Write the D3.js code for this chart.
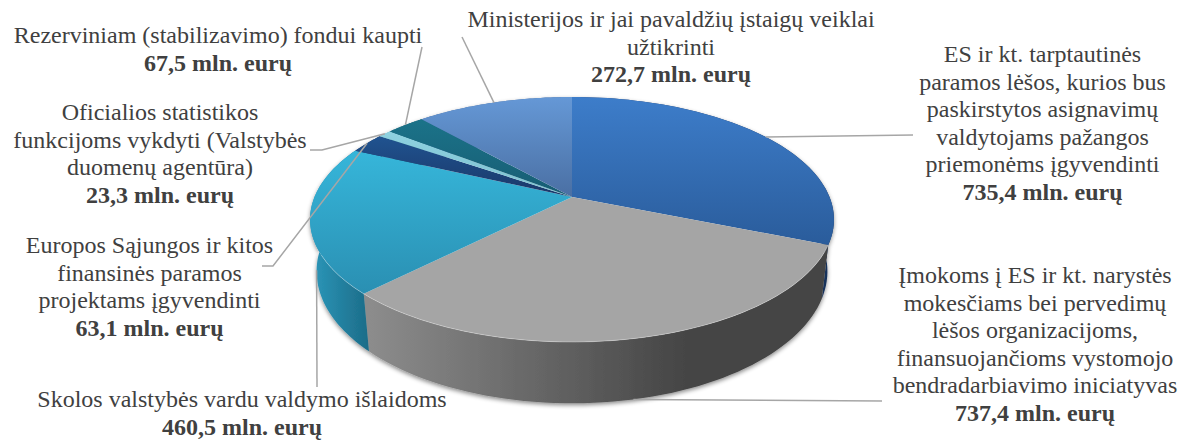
<!DOCTYPE html>
<html><head><meta charset="utf-8">
<script src="https://cdn.jsdelivr.net/npm/d3@7"></script>
<style>html,body{margin:0;padding:0;background:#fff}svg{display:block}text{font-family:"Liberation Serif",serif;font-size:24px;fill:#404040}</style>
</head><body><svg id="c" width="1184" height="441"></svg>
<script>
const categories = [
  ["ES ir kt. tarptautinės","paramos lėšos, kurios bus","paskirstytos asignavimų","valdytojams pažangos","priemonėms įgyvendinti"],
  ["Įmokoms į ES ir kt. narystės","mokesčiams bei pervedimų","lėšos organizacijoms,","finansuojančioms vystomojo","bendradarbiavimo iniciatyvas"],
  ["Skolos valstybės vardu valdymo išlaidoms"],
  ["Europos Sąjungos ir kitos","finansinės paramos","projektams įgyvendinti"],
  ["Oficialios statistikos","funkcijoms vykdyti (Valstybės","duomenų agentūra)"],
  ["Rezerviniam (stabilizavimo) fondui kaupti"],
  ["Ministerijos ir jai pavaldžių įstaigų veiklai","užtikrinti"]
];
const values = [735.4,737.4,460.5,63.1,23.3,67.5,272.7];
const unit = " mln. eurų";
const topColors = [["#3d7dca","#2a5c9b"],["#a5a5a5","#a5a5a5"],["#36b6da","#2a8fb2"],["#205390","#1a3768"],["#8fd2e0","#7cc0d0"],["#1b7389","#175c73"],["#6598d6","#4a6fa3"]];
const wallColors = [["#264478","#16305a"],["#8c8c8c","#444444"],["#2a93b5","#1c6c88"],["#1a3768","#1a3768"],["#6fb0c0","#6fb0c0"],["#175c73","#175c73"],["#4a6fa3","#4a6fa3"]];

// label layout: text centre x, first baseline y, leader end points
const labelLayout = [
  {x:1042.5,y:62,edge:"top",via:[[913,135]]},
  {x:1035,y:283,edge:"base",via:[[882,401]]},
  {x:242,y:407,edge:"base",via:[[317,387]]},
  {x:149.5,y:253,edge:"top",via:[[273,266],[262,266]]},
  {x:160,y:120,edge:"top",via:[[322,150],[310,150]]},
  {x:218,y:43,edge:"top",via:[[422,47]]},
  {x:671,y:27,edge:"top",via:[[462,37]]}
];
const lineH = 27.6;

const svg = d3.select("#c"), defs = svg.append("defs");
const f = defs.append("filter").attr("id","sh").attr("x","-10%").attr("y","-10%").attr("width","120%").attr("height","130%");
f.append("feDropShadow").attr("dx",0).attr("dy",2).attr("stdDeviation",2.2).attr("flood-color","#000").attr("flood-opacity",.45);

// perspective projection of the unit disc
const cx=572, R=257.5, A=82.2, B=197, C=-0.1837, K=0.975, D=50;
const top3 = a => { const u=Math.sin(a), v=-Math.cos(a), w=1+C*v; return [cx+R*u/w,(A*v+B)/w]; };
const base3 = a => { const u=Math.sin(a), v=-Math.cos(a), w=1+C*v; return [cx+K*R*u/w,(A*v+B+D)/w]; };
const arcs = d3.pie().sort(null).value(d=>d)(values);
const samples = (s,e) => d3.range(0,61).map(i=>s+(e-s)*i/60);
const line = d3.line();

function grad(id,c,hor,a,b){
  const g=defs.append("linearGradient").attr("id",id).attr("gradientUnits","userSpaceOnUse");
  if(hor) g.attr("x1",a).attr("x2",b).attr("y1",0).attr("y2",0); else g.attr("y1",a).attr("y2",b).attr("x1",0).attr("x2",0);
  g.append("stop").attr("offset",0).attr("stop-color",c[0]);
  g.append("stop").attr("offset",1).attr("stop-color",c[1]);
}
const wallG = svg.append("g").attr("filter","url(#sh)");
arcs.forEach((d,i)=>{
  const pts=samples(d.startAngle,d.endAngle);
  const xs=pts.map(a=>base3(a)[0]);
  if(i===1) grad("w"+i,wallColors[i],true,370,690);
  else grad("w"+i,wallColors[i],true,d3.min(xs),d3.max(xs));
  wallG.append("path").attr("d",line(pts.map(top3).concat(pts.slice().reverse().map(base3)))+"Z").attr("fill",`url(#w${i})`);
});
const topG = svg.append("g");
arcs.forEach((d,i)=>{
  const pts=samples(d.startAngle,d.endAngle).map(top3);
  const p=[[cx,B]].concat(pts);
  const ys=p.map(q=>q[1]);
  grad("t"+i,topColors[i],false,d3.min(ys),d3.max(ys));
  topG.append("path").attr("d",line(p)+"Z").attr("fill",`url(#t${i})`);
});
// soft highlight along the front rim
const rim = samples(arcs[0].endAngle,arcs[2].endAngle).filter(a=>a>1.95 && a<4.25).map(top3);
topG.append("path").attr("d",line(rim)).attr("fill","none").attr("stroke","#fff").attr("stroke-opacity",.3).attr("stroke-width",1);

const fmt = v => v.toFixed(1).replace(".",",");
const labG = svg.append("g");
arcs.forEach((d,i)=>{
  const L=labelLayout[i], mid=(d.startAngle+d.endAngle)/2;
  const s=(L.edge==="base"?base3:top3)(mid);
  labG.append("path").attr("d",line([s].concat(L.via))).attr("fill","none").attr("stroke","#a6a6a6").attr("stroke-width",1.5);
  const rows=categories[i];
  rows.forEach((t,j)=>labG.append("text").attr("x",L.x).attr("y",L.y+j*lineH).attr("text-anchor","middle").text(t));
  labG.append("text").attr("x",L.x).attr("y",L.y+rows.length*lineH).attr("text-anchor","middle").style("font-weight","bold").text(fmt(values[i])+unit);
});
</script></body></html>
